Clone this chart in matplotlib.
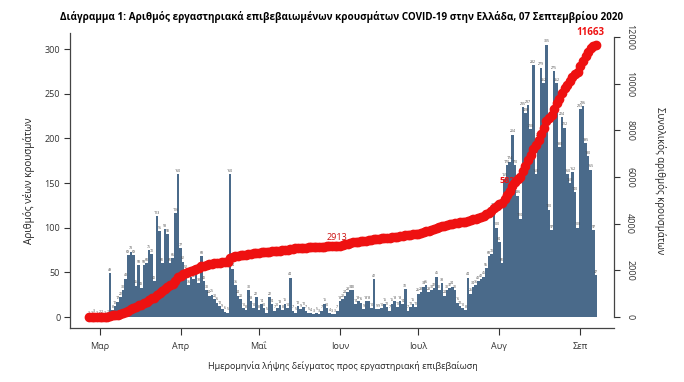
import numpy as np
import pandas as pd
import matplotlib
matplotlib.use("Agg")
import matplotlib.pyplot as plt

plt.rcParams['font.family'] = ['Open Sans', 'DejaVu Sans']

# daily lab-confirmed cases by sample date, from 26 Feb 2020
start_date = "2020-02-26"
daily_cases = [
    1, 1, 3, 1, 2, 2, 1, 2, 49, 8,
    12, 17, 22, 30, 43, 69, 73, 69, 35, 58,
    33, 58, 60, 75, 70, 40, 113, 96, 60, 98,
    93, 60, 66, 116, 160, 77, 62, 52, 36, 45,
    42, 50, 38, 68, 40, 30, 24, 25, 20, 16,
    12, 9, 6, 5, 160, 54, 36, 24, 20, 10,
    8, 30, 18, 10, 22, 8, 14, 10, 5, 22,
    14, 7, 10, 13, 8, 15, 10, 44, 7, 5,
    12, 9, 11, 7, 5, 4, 3, 5, 3, 7,
    15, 10, 4, 3, 3, 7, 18, 20, 24, 28,
    30, 30, 14, 18, 16, 9, 18, 18, 10, 42,
    9, 9, 10, 15, 11, 7, 15, 18, 11, 18,
    14, 31, 7, 11, 15, 11, 26, 28, 34, 36,
    28, 30, 32, 45, 30, 38, 24, 30, 32, 34,
    30, 16, 12, 10, 8, 44, 26, 34, 36, 40,
    42, 45, 55, 68, 70, 122, 100, 84, 60, 155,
    170, 174, 204, 170, 136, 110, 235, 228, 237, 210,
    282, 160, 200, 279, 262, 305, 120, 97, 275, 262,
    190, 224, 212, 160, 150, 162, 140, 100, 233, 236,
    195, 180, 165, 97, 47,
]

month_ticks = ["2020-03-01", "2020-04-01", "2020-05-01", "2020-06-01",
               "2020-07-01", "2020-08-01", "2020-09-01"]
month_labels = ["Μαρ", "Απρ", "Μαΐ", "Ιουν", "Ιουλ", "Αυγ", "Σεπ"]

left_ticks = [0, 50, 100, 150, 200, 250, 300]
right_ticks = [0, 2000, 4000, 6000, 8000, 10000, 12000]

# red labels on the cumulative curve
note_dates = ["2020-05-31", "2020-08-07", "2020-09-07"]
note_texts = ["2913", "5823", "11663"]

bar_color = '#4a6a8a'
red = '#ee1111'

dates = pd.date_range(start_date, periods=len(daily_cases), freq='D')
cum = np.cumsum(daily_cases)

fig = plt.figure(figsize=(6.84, 3.82), dpi=100)
ax = fig.add_axes([0.1023, 0.1414, 0.7954, 0.7722])

ax.bar(dates, daily_cases, width=1.0, color=bar_color, linewidth=0)
for d, v in zip(dates, daily_cases):
    ax.text(d, v + 1.5, str(v), fontsize=2.5, ha='center', va='bottom',
            color='#444444')

ax.set_xlim(dates[0] - pd.Timedelta(days=7.3), dates[0] + pd.Timedelta(days=200.9))
ax.set_ylim(-12.3, 318)
ax.set_yticks(left_ticks)
ax.set_xticks(pd.to_datetime(month_ticks))
ax.set_xticklabels(month_labels)
ax.tick_params(axis='x', direction='out', length=5, width=0.8, pad=5,
               labelsize=6.5, colors='#333333')
ax.tick_params(axis='y', direction='out', length=4, width=0.8, pad=3,
               labelsize=6.5, colors='#333333')
for s in ['top', 'right']:
    ax.spines[s].set_visible(False)
for s in ['left', 'bottom']:
    ax.spines[s].set_color('#444444')
    ax.spines[s].set_linewidth(0.9)

ax.set_ylabel("Αριθμός νέων κρουσμάτων", fontsize=7.2, color='#222222')
ax.yaxis.set_label_coords(-0.064, 0.5)

# cumulative curve on the right axis
ax2 = ax.twinx()
ax2.plot(dates, cum, color=red, marker='o', markersize=6, linewidth=3,
         zorder=3)
ax2.set_ylim(-471, 12170)
ax2.set_yticks(right_ticks)
ax2.set_yticklabels([str(t) for t in right_ticks], rotation=270, va='center')
ax2.tick_params(axis='y', direction='out', length=4, width=0.8, pad=4,
                labelsize=6.5, colors='#333333')
for s in ['top', 'left', 'bottom']:
    ax2.spines[s].set_visible(False)
ax2.spines['right'].set_bounds(0, 12000)
ax2.spines['right'].set_color('#444444')
ax2.spines['right'].set_linewidth(0.9)
ax2.set_ylabel("Συνολικός αριθμός κρουσμάτων", fontsize=7, color='#222222',
               rotation=270, va='center')
ax2.yaxis.set_label_coords(1.085, 0.5)

for nd, nt in zip(note_dates, note_texts):
    i = dates.get_loc(pd.Timestamp(nd))
    if nt == note_texts[-1]:
        ax2.annotate(nt, (dates[i], cum[i]), xytext=(-4, 5),
                     textcoords='offset points', ha='center', va='bottom',
                     color=red, fontsize=7, fontweight='bold', zorder=4)
    elif nt == note_texts[1]:
        # half hidden behind the dots, as in the original
        ax2.annotate(nt, (dates[i], cum[i]), xytext=(-4, 1),
                     textcoords='offset points', ha='center', va='center',
                     color=red, fontsize=6.5, fontweight='bold', zorder=2)
    else:
        ax2.annotate(nt, (dates[i], cum[i]), xytext=(0, 3),
                     textcoords='offset points', ha='center', va='bottom',
                     color='#cc1111', fontsize=6.5, zorder=4)

fig.text(0.5, 0.955,
         "Διάγραμμα 1: Αριθμός εργαστηριακά επιβεβαιωμένων κρουσμάτων "
         "COVID-19 στην Ελλάδα, 07 Σεπτεμβρίου 2020",
         ha='center', va='center', fontsize=7.1, fontweight='bold')
fig.text(0.5015, 0.042, "Ημερομηνία λήψης δείγματος προς εργαστηριακή επιβεβαίωση",
         ha='center', va='center', fontsize=6.5, color='#222222')

fig.savefig("out.png", dpi=100)
